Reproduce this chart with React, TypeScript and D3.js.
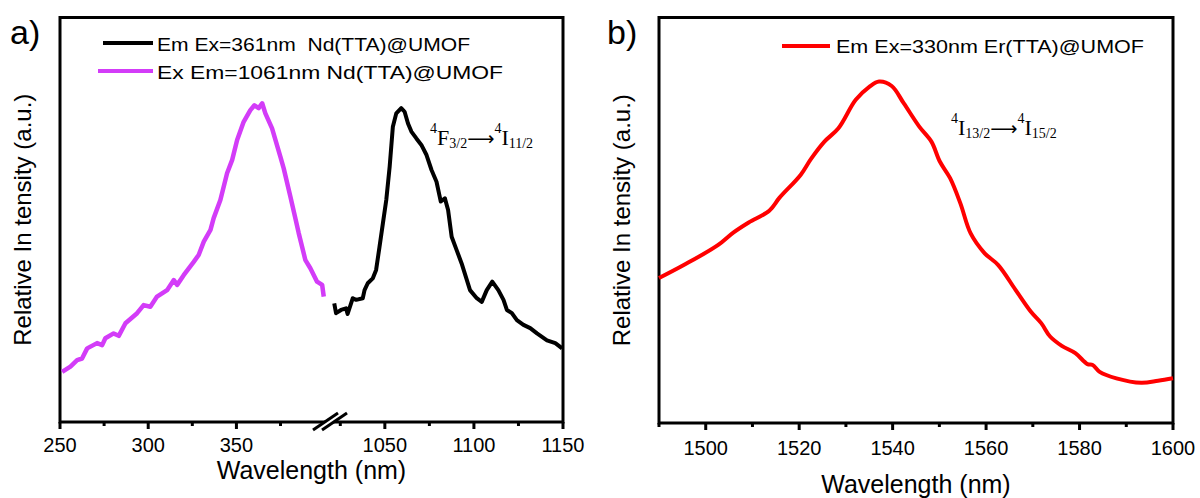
import React from "react";
import * as d3 from "d3";

// excitation spectrum (magenta), Em = 1061 nm
const excWave = [251.2, 255.9, 259.7, 262.5, 265.4, 271.0, 273.9, 275.7, 280.4, 283.3, 287.1, 293.7, 297.4, 301.2, 305.0, 310.7, 314.5, 316.4, 320.1, 325.8, 328.6, 331.5, 335.3, 337.1, 340.9, 344.7, 347.6, 350.4, 354.1, 357.9, 360.2, 362.6, 364.6, 366.4, 370.2, 374.9, 376.8, 380.6, 383.4, 385.3, 389.1, 391.9, 395.7, 398.6, 399.5];
const excInt = [12.4, 13.7, 15.3, 15.7, 18.2, 19.5, 19.0, 20.7, 21.9, 21.3, 24.4, 26.9, 28.9, 28.5, 31.0, 32.6, 35.1, 33.9, 36.3, 39.6, 41.3, 44.6, 47.5, 50.4, 54.9, 61.5, 64.8, 69.7, 74.2, 77.1, 78.3, 77.6, 78.8, 76.3, 72.6, 65.6, 62.7, 55.7, 50.4, 46.7, 40.0, 38.0, 34.7, 33.9, 31.0];

// emission spectrum (black), Ex = 361 nm
const emWave = [1021.6, 1022.6, 1025.4, 1028.2, 1029.1, 1032.0, 1033.9, 1037.6, 1038.6, 1040.4, 1043.2, 1045.1, 1047.0, 1048.9, 1050.8, 1052.7, 1054.5, 1056.4, 1059.2, 1061.1, 1063.0, 1064.9, 1067.7, 1070.5, 1073.4, 1076.2, 1079.0, 1081.4, 1083.7, 1085.5, 1087.5, 1090.3, 1093.1, 1097.8, 1101.6, 1104.4, 1107.2, 1110.3, 1113.7, 1116.6, 1118.5, 1121.3, 1124.1, 1127.8, 1131.6, 1135.4, 1141.0, 1145.7, 1149.5];
const emInt = [29.3, 26.9, 27.7, 28.1, 26.7, 30.6, 30.2, 30.6, 32.6, 34.3, 35.5, 37.6, 43.3, 49.1, 54.9, 63.1, 73.0, 76.3, 77.6, 76.7, 73.8, 71.8, 70.1, 68.5, 66.0, 62.3, 59.4, 54.5, 55.3, 52.4, 45.8, 42.5, 39.2, 32.6, 30.6, 29.7, 32.6, 34.7, 32.6, 30.2, 27.7, 26.9, 25.2, 24.0, 23.2, 21.9, 20.2, 19.5, 18.2];

// Er emission (red), Ex = 330 nm
const erWave = [1490, 1495.3, 1502.6, 1505.9, 1509.2, 1513.6, 1515.8, 1520.3, 1522.5, 1525.4, 1528.4, 1532.1, 1535, 1537.1, 1539.8, 1542.4, 1545.7, 1548.3, 1550.1, 1552.3, 1554.5, 1556.7, 1559.7, 1562.6, 1566.3, 1569.6, 1571.8, 1573.7, 1576.2, 1579.1, 1581.7, 1582.8, 1584.3, 1587.9, 1593.2, 1596.8, 1600];
const erInt = [35.7, 38.9, 43.8, 46.9, 49.4, 52.3, 55.5, 61.1, 65.0, 69.3, 72.6, 79.6, 82.8, 84.1, 83.0, 78.7, 73.0, 69.3, 64.4, 60.3, 54.1, 46.7, 41.8, 38.9, 32.8, 27.4, 24.6, 21.3, 19.0, 17.2, 14.5, 14.3, 12.6, 11.0, 9.9, 10.4, 11.0];

const lowMajor = [250, 300, 350];
const lowMinor = [275, 325, 375];
const highMajor = [1050, 1100, 1150];
const highMinor = [1025, 1075, 1125];
const erMajor = [1500, 1520, 1540, 1560, 1580, 1600];
const erMinor = [1490, 1510, 1530, 1550, 1570, 1590];

const sans = "Arial, 'Liberation Sans', sans-serif";
const serif = "'Times New Roman', 'Liberation Serif', serif";
const MAGENTA = "#d33cf8";

function Transition({ x, y, a, aSub, b, bSub }: { x: number; y: number; a: string; aSub: string; b: string; bSub: string }) {
  return (
    <text x={x} y={y} fontFamily={serif} fontSize={22}>
      <tspan fontSize={14} dy={-12}>4</tspan>
      <tspan dy={12}>{a}</tspan>
      <tspan fontSize={14} dy={3}>{aSub}</tspan>
      <tspan dy={-3} fontFamily="'DejaVu Sans', sans-serif" fontSize={19}>⟶</tspan>
      <tspan fontSize={14} dy={-12}>4</tspan>
      <tspan dy={12}>{b}</tspan>
      <tspan fontSize={14} dy={3}>{bSub}</tspan>
    </text>
  );
}

function App() {
  // panel a
  const aL = 60, aR = 563, aT = 17.5, aB = 422;
  const xLow = d3.scaleLinear().domain([250, 401]).range([aL, 326.4]);
  const xHigh = d3.scaleLinear().domain([1020, 1150]).range([331.4, aR]);
  const yA = d3.scaleLinear().domain([0, 100]).range([aB, aT]);

  // panel b
  const bL = 659, bR = 1173, bT = 17.5, bB = 423;
  const xEr = d3.scaleLinear().domain([1490, 1600]).range([bL, bR]);
  const yB = d3.scaleLinear().domain([0, 100]).range([bB, 17]);

  const lineExc = d3.line<number>().x((d, i) => xLow(excWave[i])).y(d => yA(d));
  const lineEm = d3.line<number>().x((d, i) => xHigh(emWave[i])).y(d => yA(d));
  const lineEr = d3.line<number>().x((d, i) => xEr(erWave[i])).y(d => yB(d)).curve(d3.curveCatmullRom);

  const tick = (x: number, y: number, len: number, key: string) => (
    <line key={key} x1={x} x2={x} y1={y} y2={y + len} stroke="#000" strokeWidth={3} />
  );

  return (
    <svg width={1200} height={498} style={{ position: "absolute", left: 0, top: 0, background: "#fff" }}>
      {/* ---------- panel a ---------- */}
      <text x={10} y={44} fontFamily={sans} fontSize={34}>a)</text>
      <rect x={aL} y={aT} width={aR - aL} height={aB - aT} fill="none" stroke="#000" strokeWidth={3} />
      {lowMajor.map(v => tick(xLow(v), aB, 7, "lM" + v))}
      {lowMinor.map(v => tick(xLow(v), aB, 4, "lm" + v))}
      {highMajor.map(v => tick(xHigh(v), aB, 7, "hM" + v))}
      {highMinor.map(v => tick(xHigh(v), aB, 4, "hm" + v))}
      {lowMajor.map(v => (
        <text key={"lt" + v} x={xLow(v)} y={452} textAnchor="middle" fontFamily={sans} fontSize={20}>{v}</text>
      ))}
      {highMajor.map(v => (
        <text key={"ht" + v} x={xHigh(v)} y={452} textAnchor="middle" fontFamily={sans} fontSize={20}>{v}</text>
      ))}
      {/* axis break */}
      <line x1={317.5} y1={430} x2={342.5} y2={413} stroke="#fff" strokeWidth={6} />
      <line x1={313} y1={430} x2={338} y2={413} stroke="#000" strokeWidth={3} />
      <line x1={322} y1={430} x2={347} y2={413} stroke="#000" strokeWidth={3} />

      <path d={lineExc(excInt) || ""} fill="none" stroke={MAGENTA} strokeWidth={4.5} strokeLinejoin="round" />
      <path d={lineEm(emInt) || ""} fill="none" stroke="#000" strokeWidth={4} strokeLinejoin="round" />

      <line x1={103} x2={153} y1={43} y2={43} stroke="#000" strokeWidth={4} />
      <text x={157} y={50.5} fontFamily={sans} fontSize={19} textLength={313} lengthAdjust="spacingAndGlyphs" xmlSpace="preserve">Em Ex=361nm  Nd(TTA)@UMOF</text>
      <line x1={98} x2={153} y1={71} y2={71} stroke={MAGENTA} strokeWidth={4} />
      <text x={157} y={79} fontFamily={sans} fontSize={19} textLength={346} lengthAdjust="spacingAndGlyphs">Ex Em=1061nm Nd(TTA)@UMOF</text>

      <Transition x={430} y={145} a="F" aSub="3/2" b="I" bSub="11/2" />

      <text transform={`translate(31,${(aT + aB) / 2}) rotate(-90)`} textAnchor="middle" fontFamily={sans} fontSize={24}>Relative In tensity (a.u.)</text>
      <text x={(aL + aR) / 2} y={479} textAnchor="middle" fontFamily={sans} fontSize={25}>Wavelength (nm)</text>

      {/* ---------- panel b ---------- */}
      <text x={607} y={44} fontFamily={sans} fontSize={34}>b)</text>
      <rect x={bL} y={bT} width={bR - bL} height={bB - bT} fill="none" stroke="#000" strokeWidth={3} />
      {erMajor.map(v => tick(xEr(v), bB, 7, "eM" + v))}
      {erMinor.map(v => tick(xEr(v), bB, 4, "em" + v))}
      {erMajor.map(v => (
        <text key={"et" + v} x={xEr(v)} y={455} textAnchor="middle" fontFamily={sans} fontSize={20}>{v}</text>
      ))}

      <path d={lineEr(erInt) || ""} fill="none" stroke="#ff0000" strokeWidth={4} strokeLinejoin="round" />

      <line x1={782} x2={830} y1={46} y2={46} stroke="#ff0000" strokeWidth={4} />
      <text x={836} y={53} fontFamily={sans} fontSize={19} textLength={308} lengthAdjust="spacingAndGlyphs">Em Ex=330nm Er(TTA)@UMOF</text>

      <Transition x={951} y={135} a="I" aSub="13/2" b="I" bSub="15/2" />

      <text transform={`translate(630,${(bT + bB) / 2}) rotate(-90)`} textAnchor="middle" fontFamily={sans} fontSize={24}>Relative In tensity (a.u.)</text>
      <text x={(bL + bR) / 2} y={493} textAnchor="middle" fontFamily={sans} fontSize={25}>Wavelength (nm)</text>
    </svg>
  );
}

export default App;
